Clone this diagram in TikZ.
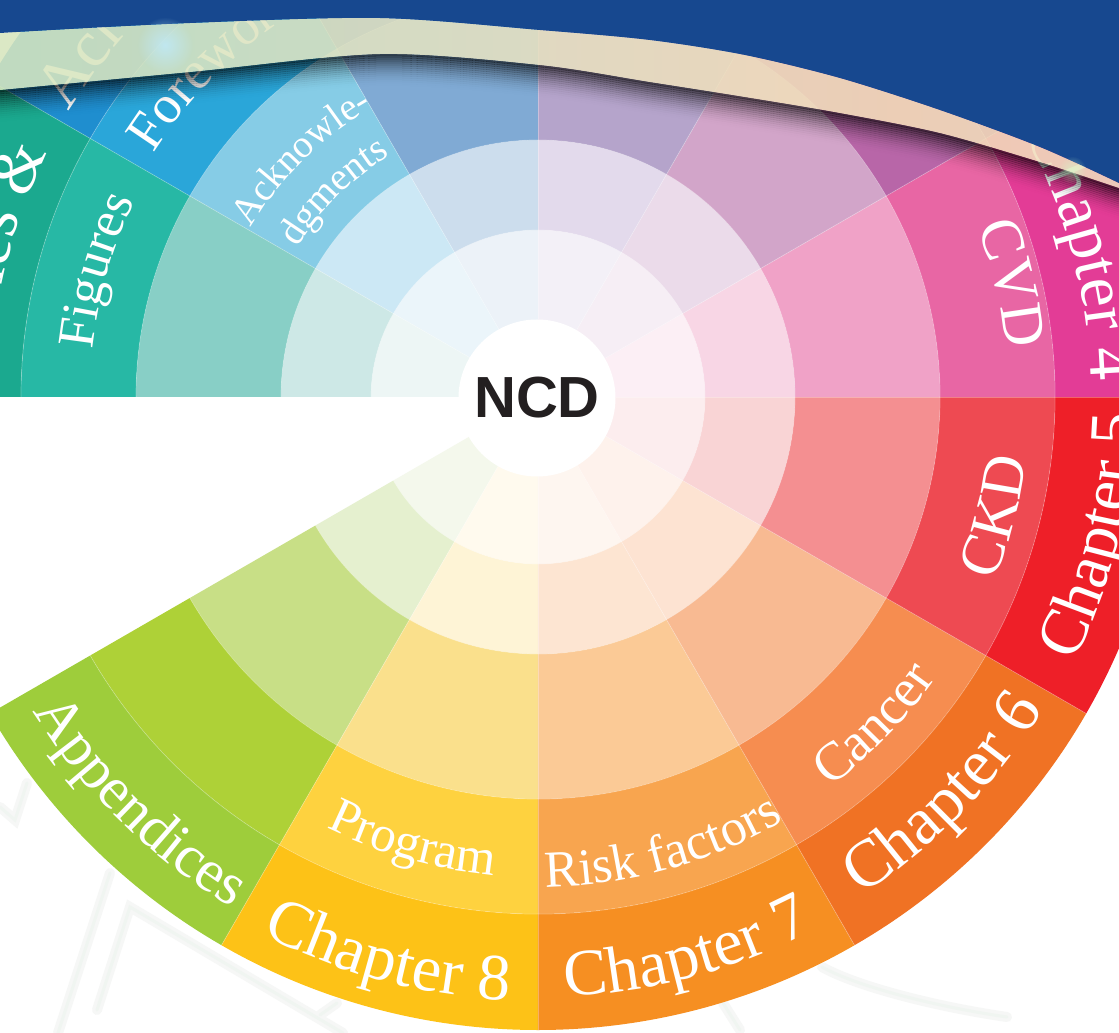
\documentclass[tikz,border=0pt]{standalone}
\usepackage{fontspec}
\setmainfont{Liberation Serif}
\newfontfamily\ncdfont{Liberation Sans}
\usetikzlibrary{decorations.text,fadings}
\definecolor{topblue}{HTML}{17488F}
\definecolor{ncdblack}{HTML}{231F20}
\definecolor{faintline}{HTML}{F0F5F1}
\definecolor{faintshadow}{HTML}{F6F7F6}
\definecolor{rbA}{HTML}{D6E8B6}
\definecolor{rbB}{HTML}{D3E6BC}
\definecolor{rbC}{HTML}{DAE4C0}
\definecolor{rbD}{HTML}{E6E1C1}
\definecolor{rbE}{HTML}{F4DDB9}
\definecolor{rbF}{HTML}{EADCC2}
\definecolor{rbG}{HTML}{DCDCCE}
\pgfdeclarehorizontalshading{ribbonshade}{100bp}{color(0bp)=(rbA); color(17bp)=(rbB); color(34bp)=(rbC); color(48bp)=(rbD); color(65bp)=(rbE); color(82bp)=(rbF); color(100bp)=(rbG)}
\tikzfading[name=glowfade, inner color=transparent!0, outer color=transparent!100]
\newcommand\ringseg[5]{%
  \definecolor{segc}{HTML}{#5}%
  \fill[segc] (#1:#3) arc[start angle=#1,end angle=#2,radius=#3] -- (#2:#4) arc[start angle=#2,end angle=#1,radius=#4] -- cycle;}
\newcommand\uplabel[4]{%
  \path[decorate,decoration={text along path,text align=center,text color=white,
    text={|\fontsize{#3}{#3}\selectfont|#4}}]
    (#1+70:#2) arc[start angle=#1+70,end angle=#1-70,radius=#2];}
\newcommand\lowlabel[4]{%
  \path[decorate,decoration={text along path,text align=center,text color=white,
    text={|\fontsize{#3}{#3}\selectfont|#4}}]
    (#1-70:#2) arc[start angle=#1-70,end angle=#1+70,radius=#2];}
\begin{document}
\begin{tikzpicture}[x=1pt,y=1pt]
\useasboundingbox (-538,-636) rectangle (581,397);
\fill[white] (-538,-636) rectangle (581,397);
% faint background line art
\begin{scope}[line cap=round]
\foreach \w/\c in {10/faintshadow,3/faintline}{
  \draw[\c, line width=\w pt] (-511,-386) -- (-523,-423) -- (-538,-410);
  \draw[\c, line width=\w pt] (-428,-476) -- (-480,-636);
  \draw[\c, line width=\w pt] (-441,-613) -- (-408,-510) -- (-195,-636);
  \draw[\c, line width=\w pt] (-218,-618) -- (-201,-606);
  \draw[\c, line width=\w pt] (284,-570) .. controls (320,-590) and (400,-610) .. (469,-620);
  \draw[\c, line width=\w pt] (185,-606) -- (202,-633);
}
\end{scope}
% wheel sectors
\foreach \a/\ca/\cb/\cc/\cd/\ce in {
  -150/F4F8EC/E5F0CF/C8DF86/AED137/9ECD3B,
  -120/FFFAEE/FEF4D6/FAE08C/FED23F/FDC217,
  -90/FEF6F0/FDE5D2/FBCA96/F8A54F/F68F22,
  -60/FEF2EC/FDE3D2/F8BA92/F68D50/F07224,
  -30/FCEDEE/F9D4D5/F48F91/EE4A52/EE1F28,
  0/FCEFF5/F8D6E5/F0A2C7/E866A4/E33C96,
  30/F6EEF5/EBDBEA/D2A5C9/B866A8/A3489A,
  60/F3F0F7/E3DAEC/B5A4CB/8F7DB8/7A5FA8,
  90/ECF2F8/CCDDED/80AAD4/4F86C6/3B6FB6,
  120/EBF5FA/CCE8F5/86CCE6/2AA6D9/1F8ECF,
  150/EDF6F5/CDE8E6/88CFC6/27B8A5/1BA98F}{
  \pgfmathsetmacro\b{\a+30}
  \ringseg{\a}{\b}{1}{167}{\ca}
  \ringseg{\a}{\b}{167}{257}{\cb}
  \ringseg{\a}{\b}{257}{402}{\cc}
  \ringseg{\a}{\b}{402}{517}{\cd}
  \ringseg{\a}{\b}{517}{633}{\ce}
}
% thin light separators
\foreach \a in {-120,-90,...,150}
  \draw[white, opacity=0.3, line width=0.7pt] (\a:78) -- (\a:633);
\foreach \r in {167,257,402,517}
  \draw[white, opacity=0.3, line width=0.7pt] (-150:\r) arc[start angle=-150,end angle=180,radius=\r];
% centre
\node[circle, fill=white, minimum size=157pt, inner sep=0pt, text=ncdblack,
      font=\ncdfont\bfseries\fontsize{58}{58}\selectfont] (ncd) at (-1,-1) {NCD};
% labels, upper half
\uplabel{164}{448}{52}{Figures}
\uplabel{166.3}{548}{66}{Tables {\&}}
\uplabel{134.5}{455}{54}{Foreword}
\uplabel{134.6}{333}{39}{Acknowle-}
\uplabel{134.8}{283}{39}{dgments}
\uplabel{13.5}{471}{60}{CVD}
\uplabel{15}{553}{66}{Chapter 4}
\path[decorate,decoration={text along path,text align=left,text color=white,
    text={|\fontsize{66}{66}\selectfont|Acr}}]
    (148.7:549) arc[start angle=148.7,end angle=100,radius=549];
% labels, lower half
\lowlabel{-14.6}{492}{60}{CKD}
\lowlabel{-14}{598}{66}{Chapter 5}
\lowlabel{-44.2}{487}{54}{Cancer}
\lowlabel{-44.4}{594}{67}{Chapter 6}
\lowlabel{-74.5}{490}{52}{Risk factors}
\lowlabel{-75}{600}{66}{Chapter 7}
\lowlabel{-105.7}{480}{51}{Program}
\lowlabel{-105}{604}{66}{Chapter 8}
\lowlabel{-134.5}{595}{60}{Appendices}
% shadow below the ribbon
\foreach \k in {0,...,15}{
  \pgfmathsetmacro\op{0.62*(1-\k/16)^2}
  \pgfmathsetmacro\dy{-\k*2-1}
  \draw[black, draw opacity=\op, line width=2.3pt, yshift=\dy pt]
    plot[smooth] coordinates {(595,204) (581,209) (502,235) (402,264) (302,284) (207,300) (112,315) (2,332) (-158,343) (-348,325) (-538,307) (-550,306)};
}
% translucent ribbon
\shade[shading=ribbonshade, opacity=0.88]
  plot[smooth] coordinates {(-550,361) (-538,364) (-348,374) (-158,379) (2,367) (112,357) (207,342) (302,319) (402,287) (502,250) (581,214) (595,206)}
  -- plot[smooth] coordinates {(595,204) (581,209) (502,235) (402,264) (302,284) (207,300) (112,315) (2,332) (-158,343) (-348,325) (-538,307) (-550,306)}
  -- cycle;
% dark blue top
\fill[topblue] (-550,400) --
  plot[smooth] coordinates {(-550,361) (-538,364) (-348,374) (-158,379) (2,367) (112,357) (207,342) (302,319) (402,287) (502,250) (581,214) (595,206)}
  -- (595,400) -- cycle;
% soft glows
\fill[white!75!cyan, path fading=glowfade, opacity=0.8] (-373,352) circle (28);
\fill[white!80!green, path fading=glowfade, opacity=0.5] (534,227) circle (14);
\end{tikzpicture}
\end{document}
